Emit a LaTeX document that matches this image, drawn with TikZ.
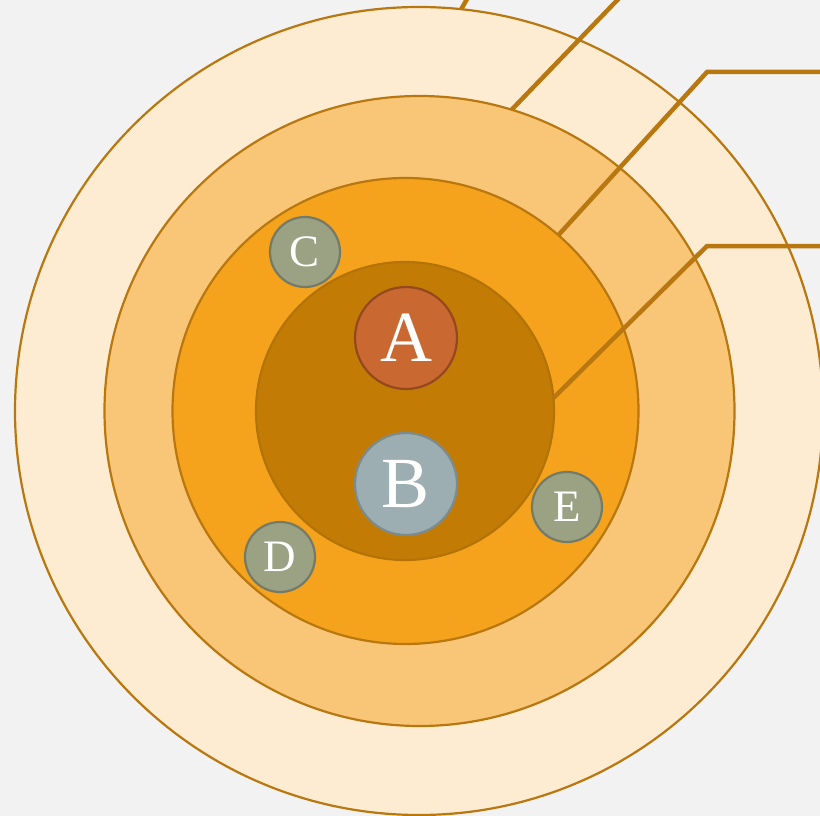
\documentclass[tikz,border=0pt]{standalone}
\usepackage{fontspec}
\setmainfont{Liberation Serif}
\definecolor{bg}{HTML}{F2F2F2}
\definecolor{ringline}{HTML}{B8770F}
\definecolor{ringA}{HTML}{FDEBD2}
\definecolor{ringB}{HTML}{F9C677}
\definecolor{ringC}{HTML}{F5A31D}
\definecolor{ringD}{HTML}{C27C06}
\definecolor{ringDline}{HTML}{B47306}
\definecolor{afill}{HTML}{C96830}
\definecolor{aline}{HTML}{94481E}
\definecolor{bfill}{HTML}{9DAEB3}
\definecolor{bline}{HTML}{7A8C90}
\definecolor{sfill}{HTML}{9BA283}
\definecolor{sline}{HTML}{737A68}
\tikzset{
  ring/.style={circle, draw=ringline, line width=2.2pt, inner sep=0pt, outer sep=0pt, minimum size=#1},
  bigdot/.style={circle, line width=2.2pt, inner sep=0pt, minimum size=102pt, text=white, font=\fontsize{72}{72}\selectfont},
  smalldot/.style={circle, fill=sfill, draw=sline, line width=2.2pt, inner sep=0pt, minimum size=70pt, text=white, font=\fontsize{45}{45}\selectfont},
  leader/.style={draw=ringline, line width=4.5pt}
}
\begin{document}
\begin{tikzpicture}[x=1pt, y=-1pt]
\fill[bg] (0,0) rectangle (820,816);
\useasboundingbox (0,0) rectangle (820,816);
\node[ring=808pt, fill=ringA] (r1) at (419,411) {};
\node[ring=630pt, fill=ringB] (r2) at (419.5,411) {};
\node[ring=466pt, fill=ringC] (r3) at (405.5,411) {};
\node[ring=298pt, fill=ringD, draw=ringDline] (r4) at (405,411) {};
\coordinate (e1) at (471,-8);
\coordinate (e2) at (627,-10);
\coordinate (k3) at (707,72);
\coordinate (e3) at (825,72);
\coordinate (k4) at (707,246);
\coordinate (e4) at (825,246);
\draw[leader] (r1.84.9) -- (e1);
\draw[leader] (r2.73.4) -- (e2);
\draw[leader] (r3.49) -- (k3) -- (e3);
\draw[leader] (r4.5) -- (k4) -- (e4);
\node[bigdot, fill=afill, draw=aline] (a) at (406,338) {A};
\node[bigdot, fill=bfill, draw=bline] (b) at (406,484) {B};
\node[smalldot] (c) at (305,252) {C};
\node[smalldot] (d) at (280,557) {D};
\node[smalldot] (e) at (567,507) {E};
\end{tikzpicture}
\end{document}
